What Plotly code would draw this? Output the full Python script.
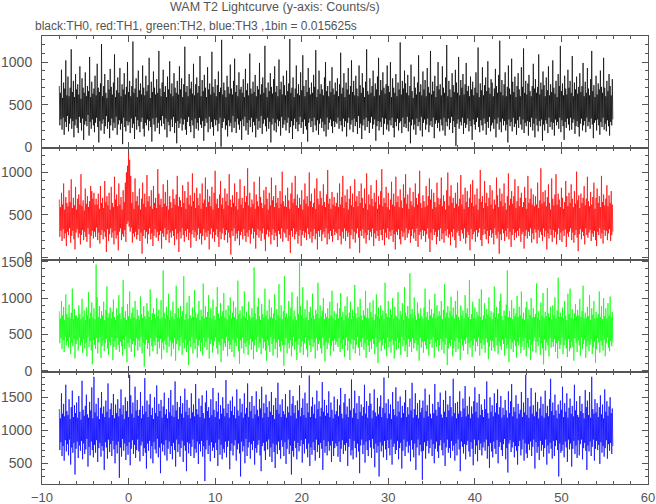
import numpy as np
import plotly.graph_objects as go
from plotly.subplots import make_subplots

# time axis: first plotted sample and spacing (seconds)
T_START = -8.0
T_STEP = 0.0625

# TH0 (black) counts/s
TH0 = [
720,260,640,330,910,210,580,350,760,150,690,300,1020,240,610,370,
830,190,600,280,700,340,1150,220,650,310,780,120,590,260,860,330,
680,230,740,170,620,360,950,290,570,200,810,340,700,90,640,270,
880,310,600,250,720,380,660,140,1060,300,590,220,770,330,630,260,
690,180,840,290,610,350,980,240,700,60,650,310,750,200,1210,280,
600,330,720,160,860,250,640,370,580,220,790,300,680,110,920,260,
710,340,620,200,760,290,1090,230,590,360,670,150,820,270,640,320,
930,210,600,280,740,40,680,350,870,240,620,190,710,310,1000,260,
650,300,780,170,600,340,720,230,1240,280,640,100,690,360,810,210,
590,320,900,250,670,180,750,300,620,350,960,220,700,130,610,290,
840,260,660,330,730,200,1050,310,580,240,770,70,650,340,890,270,
700,190,620,350,800,230,640,290,1130,160,690,320,600,250,760,370,
910,280,650,210,720,340,590,120,830,300,680,260,1010,190,630,330,
750,240,600,360,870,170,700,290,640,50,780,310,620,230,950,280,
680,340,810,200,590,270,740,330,1180,210,650,150,720,300,600,360,
860,250,690,180,770,320,630,260,980,110,610,340,740,220,820,290,
640,200,720,350,1070,270,600,230,790,310,660,80,850,250,700,340,
590,290,940,180,680,360,750,220,620,300,1120,240,710,140,640,330,
800,260,600,320,730,190,890,280,650,350,700,10,1260,230,620,300,
760,340,670,210,590,260,840,130,710,320,630,250,970,290,690,180,
620,370,780,230,1040,300,650,170,730,340,600,270,880,210,680,310,
710,90,640,330,800,250,590,360,920,200,670,290,750,150,610,320,
1100,240,690,350,630,180,770,300,650,260,850,120,600,340,720,210,
680,310,990,230,620,370,740,160,820,280,640,330,1190,250,700,190,
590,350,760,220,660,300,870,60,710,270,630,340,800,200,950,290,
650,180,720,330,600,250,1030,310,680,140,770,360,620,230,840,270,
730,320,610,200,900,290,660,350,750,170,1270,240,640,310,700,100,
820,260,590,340,690,220,960,300,630,190,740,270,610,360,880,230,
670,300,1080,160,720,330,600,250,790,210,650,70,930,290,700,340,
620,240,760,310,640,180,850,350,710,260,1140,200,590,320,680,150,
900,280,630,340,740,230,680,300,610,190,820,270,1000,130,660,350,
720,210,600,290,780,330,650,250,940,170,690,310,620,240,760,300,
660,280,810,350,600,220,740,310,1110,260,630,190,700,340,870,240,
590,310,760,130,680,290,930,350,620,210,720,270,1020,320,650,180,
780,340,610,250,840,300,690,160,600,370,960,230,730,280,640,100,
870,260,700,330,590,200,770,350,1150,240,660,310,620,170,810,290,
640,360,720,220,900,270,600,330,750,80,680,250,830,310,1050,200,
610,300,790,240,670,350,880,150,700,280,630,340,740,210,960,270,
720,190,650,320,1000,260,590,350,810,230,700,120,640,300,860,250,
600,340,760,200,680,290,1230,310,620,170,780,350,690,240,900,280,
750,230,640,360,850,190,610,300,720,50,970,260,660,330,580,210,
830,270,700,150,620,340,760,250,1080,300,650,200,740,360,610,130,
890,290,680,330,790,210,600,270,930,340,710,180,640,260,1130,310,
620,240,770,350,660,110,840,280,590,320,720,230,1000,290,680,190,
740,330,610,260,950,200,700,350,640,140,820,300,1200,250,600,340,
780,210,680,290,590,360,870,170,730,310,650,240,910,20,760,280,
640,330,1060,220,610,300,790,260,700,350,860,160,620,290,740,230,
990,270,660,340,720,190,600,310,830,250,680,90,770,330,610,270,
700,210,880,300,640,350,1170,240,590,180,750,320,670,260,940,200,
610,340,730,280,820,150,660,300,1010,230,700,360,630,190,800,260,
760,290,600,220,690,330,920,120,720,280,640,350,850,210,1250,300,
650,180,790,340,610,260,740,310,880,200,600,270,710,60,960,330,
690,250,620,300,1040,190,770,350,650,240,830,280,590,150,720,320,
870,230,680,360,600,270,940,210,710,330,1160,170,640,290,780,250,
620,310,750,140,850,300,660,240,600,350,720,200,980,280,690,120,
800,340,640,260,710,190,1090,310,620,250,760,330,680,80,890,270,
730,200,600,320,820,280,670,170,950,350,610,240,740,300,650,210,
1020,290,700,140,630,330,780,260,590,300,860,220,720,350,1190,180,
660,320,750,250,610,90,840,300,690,230,620,340,910,270,700,200,
780,350,640,210,1070,290,600,330,760,160,680,250,830,310,630,240,
710,130,870,280,650,340,720,200,990,260,600,310,770,180,640,350,
930,250,690,300,610,220,800,340,1130,270,660,110,730,290,590,320,
840,200,620,330,750,260,680,150,900,300,710,240,640,350,1050,210,
700,280,600,190,780,320,660,250,860,140,720,300,610,260,800,330,
]

# TH1 (red) counts/s
TH1 = [
680,240,590,310,760,190,620,330,870,220,560,280,710,130,640,300,
600,260,790,340,650,170,920,250,580,310,700,210,610,90,830,290,
560,330,690,230,740,280,620,150,980,260,600,320,670,200,550,300,
810,240,630,180,720,340,590,270,660,110,840,250,780,310,690,220,
760,300,620,240,690,350,620,200,750,290,570,160,840,260,640,320,
700,210,580,300,900,240,650,60,720,330,610,190,760,270,560,340,
830,230,640,290,590,150,950,310,680,220,740,260,600,80,870,300,
620,340,710,200,560,270,790,240,650,320,880,180,1000,390,1080,420,
1270,360,1150,300,960,350,640,170,770,280,570,240,930,300,660,210,
720,260,610,330,810,190,560,290,690,40,880,250,630,320,750,220,
590,300,970,160,660,270,720,340,600,210,790,280,570,130,840,250,
640,330,700,230,580,300,1040,190,750,260,620,310,690,100,590,280,
860,240,630,340,770,200,600,270,910,320,560,170,720,290,650,230,
580,310,800,250,690,140,620,330,740,210,960,280,600,60,710,300,
670,220,590,340,850,260,640,180,780,310,570,240,700,330,890,200,
620,290,730,110,600,270,990,320,660,230,760,300,580,190,820,260,
700,340,610,210,750,280,570,150,870,250,640,330,680,200,940,290,
590,240,800,310,650,90,720,270,600,340,830,220,560,300,760,180,
1020,260,630,330,690,240,580,120,740,300,900,210,620,280,700,340,
570,200,810,260,660,320,750,170,610,290,980,230,680,30,590,310,
730,250,640,340,870,190,600,280,770,220,560,310,690,140,920,260,
620,300,700,210,580,330,840,250,650,180,720,290,1050,240,610,320,
760,160,590,270,680,340,630,220,890,300,570,100,740,260,660,330,
600,230,950,310,710,190,640,280,580,340,790,210,620,70,830,270,
690,320,560,240,760,300,610,150,940,260,670,330,720,200,590,290,
850,250,640,120,700,310,580,270,780,220,630,340,1010,180,660,300,
600,280,730,230,590,330,820,190,670,260,570,50,750,310,880,240,
640,340,690,210,960,270,610,300,740,160,580,250,700,320,620,130,
790,260,560,310,680,230,870,290,630,200,720,340,600,270,1000,220,
660,300,750,170,590,250,640,330,810,210,570,280,930,90,690,310,
620,240,780,320,700,190,610,270,860,300,650,230,590,340,740,150,
1030,280,630,210,690,310,570,250,770,180,620,330,710,260,600,300,
640,280,760,200,590,330,870,250,620,150,710,300,960,220,580,340,
730,190,650,310,800,240,560,290,690,100,840,260,610,330,750,210,
590,300,920,170,660,280,720,340,600,230,780,50,640,310,870,250,
700,330,580,220,810,290,630,160,990,260,560,320,740,200,620,300,
850,240,690,340,600,130,760,280,650,220,910,310,570,250,720,190,
620,320,780,260,1040,200,600,330,700,140,640,290,830,230,590,340,
760,210,560,300,680,250,890,320,620,180,750,270,600,90,950,300,
650,260,720,330,590,210,800,150,670,310,580,240,860,290,700,200,
980,340,630,230,740,280,570,320,820,170,660,250,610,330,770,220,
590,290,870,190,700,340,620,120,750,260,1020,300,640,210,580,320,
730,250,660,310,590,180,840,270,610,340,720,220,930,60,680,290,
800,200,570,330,760,260,650,300,590,150,880,240,700,320,620,190,
690,340,940,210,600,280,730,170,660,310,560,250,790,330,1000,230,
610,270,720,140,850,300,640,240,700,330,580,200,760,110,630,290,
880,310,600,250,690,190,970,320,620,280,740,220,570,340,820,160,
650,230,780,300,590,260,700,80,860,330,640,210,910,270,600,300,
740,180,620,320,810,240,560,290,690,340,1030,200,650,130,720,260,
580,330,900,270,640,210,760,310,600,160,700,250,850,320,620,230,
790,280,570,150,680,340,620,260,940,220,730,300,590,40,810,270,
660,200,750,330,600,280,870,190,640,310,560,240,720,340,990,210,
610,300,690,120,780,260,630,330,720,200,920,290,580,230,660,310,
840,250,600,340,700,180,760,270,590,300,650,100,830,250,700,320,
570,220,960,300,640,250,690,340,810,170,620,280,740,210,600,330,
720,290,620,160,880,320,580,230,670,300,1050,260,630,190,770,340,
650,240,790,310,600,90,710,280,860,220,640,330,560,260,930,180,
690,320,610,230,740,300,980,150,620,270,750,340,680,200,590,290,
820,180,700,310,570,250,650,330,900,120,720,280,600,240,760,300,
640,340,860,200,690,290,590,170,780,260,630,320,1010,230,670,70,
730,270,580,330,750,210,640,300,700,250,840,150,610,340,690,260,
950,230,660,290,600,320,770,190,620,280,710,240,880,310,570,200,
700,130,810,300,640,260,720,340,590,220,960,280,650,160,740,320,
610,250,690,310,850,200,600,280,730,330,640,190,780,260,620,300,
]

# TH2 (green) counts/s
TH2 = [
820,380,720,450,960,300,760,420,880,260,700,470,1050,350,780,410,
740,320,910,460,720,230,800,390,1130,340,710,440,850,170,760,370,
760,420,730,280,900,460,780,350,710,400,990,250,740,440,830,310,
700,380,870,200,760,470,1080,330,720,410,800,280,940,90,730,430,
860,360,710,300,1460,450,1010,240,740,390,890,460,720,180,820,340,
760,420,950,270,700,380,840,440,1160,310,730,220,790,400,870,350,
720,460,810,150,980,330,740,410,700,290,860,450,760,360,1040,260,
790,400,710,340,880,210,1250,430,730,300,820,470,700,120,920,380,
750,320,1090,440,720,260,800,370,870,410,740,190,960,350,710,450,
840,280,760,420,700,330,1020,470,780,240,730,390,890,60,750,360,
710,430,930,300,820,380,740,200,1120,450,700,340,790,270,860,410,
780,350,720,460,1000,230,750,400,840,310,710,440,970,160,730,390,
1380,290,800,420,720,360,880,250,760,470,1060,330,700,410,830,200,
740,380,950,300,710,450,790,140,1170,370,730,420,860,280,720,340,
890,460,750,220,820,390,1300,310,700,430,780,260,940,360,710,80,
1030,410,760,330,720,470,870,240,740,380,1110,300,800,440,730,180,
780,350,960,420,700,270,840,390,750,210,1200,460,720,320,890,400,
740,290,810,450,1040,170,730,370,860,430,710,250,980,340,760,410,
700,460,880,310,1150,230,790,400,720,350,930,120,750,440,820,280,
1070,380,730,330,840,470,710,200,900,410,760,300,1010,360,720,260,
800,430,960,190,740,390,870,340,710,450,1240,270,780,100,830,420,
720,310,890,460,750,240,1090,380,730,330,810,410,700,220,950,360,
760,440,720,290,860,400,740,160,1420,350,790,430,710,260,880,470,
1000,320,750,380,700,230,920,450,780,310,730,400,1130,280,760,140,
830,420,710,350,980,260,740,460,870,370,720,210,790,440,1050,300,
700,390,850,180,760,430,1190,330,730,270,900,410,710,350,820,70,
1300,360,740,450,790,240,720,380,960,310,750,420,870,200,1080,340,
710,470,830,290,750,400,700,150,1020,360,780,440,1490,250,890,330,
760,410,1150,220,720,380,850,460,740,300,970,190,700,420,810,350,
880,260,730,440,1060,330,760,390,710,170,840,450,780,280,1210,370,
720,420,900,310,750,240,830,460,1000,350,710,130,790,400,740,300,
860,380,720,450,950,210,760,340,1100,410,730,270,820,430,700,360,
780,400,930,330,720,450,860,260,1070,380,740,300,810,430,700,190,
890,350,760,460,1020,280,730,410,800,150,950,370,710,440,840,300,
750,420,1180,240,790,360,720,470,880,320,740,210,990,400,760,330,
700,450,830,290,760,380,1100,180,730,430,860,350,720,260,940,410,
810,300,740,440,970,370,700,230,780,460,1050,330,750,110,870,390,
720,420,900,270,760,350,830,440,710,300,1210,380,790,200,740,460,
960,330,730,400,850,250,770,430,1000,360,720,170,880,410,760,290,
740,450,1080,310,710,390,820,220,760,470,930,340,700,420,1150,270,
800,360,750,190,890,440,720,330,1340,400,780,260,850,450,730,310,
1010,380,760,430,700,280,940,360,790,140,720,460,860,320,750,400,
720,250,870,410,1130,350,740,300,810,440,700,210,980,370,760,430,
850,320,730,460,790,180,1060,390,720,330,900,420,750,270,820,350,
760,440,960,290,710,400,840,240,1190,360,730,450,800,80,890,310,
730,380,820,340,1020,430,750,200,870,310,720,410,960,260,770,460,
1100,300,740,390,700,150,900,440,760,350,830,280,720,420,1040,370,
790,460,860,230,740,380,1250,320,710,410,780,190,950,350,730,440,
870,270,720,400,810,340,760,460,990,210,740,380,1120,300,700,430,
760,360,930,250,720,450,850,390,770,160,1010,330,740,420,820,280,
710,410,800,320,1160,270,740,460,880,350,720,230,790,400,960,340,
1060,290,750,430,700,370,830,210,760,450,910,310,1380,360,740,120,
820,440,730,300,970,390,710,260,860,420,750,340,790,180,1030,400,
740,350,880,460,760,240,1090,330,720,410,800,290,700,450,870,200,
950,380,710,320,840,430,770,150,1000,360,730,270,860,410,740,460,
780,250,1200,400,730,340,820,460,700,220,940,380,760,310,1070,90,
720,430,810,280,750,390,1140,350,790,200,730,450,880,320,710,400,
900,330,760,440,1010,260,720,380,830,170,1280,410,740,300,800,360,
740,460,870,230,720,350,960,420,760,310,700,190,1060,440,780,270,
1130,310,730,400,850,330,710,140,790,450,920,380,750,260,840,420,
760,350,990,210,740,460,820,300,1170,370,720,430,800,180,730,340,
880,410,750,270,1040,360,700,440,860,230,770,320,960,400,720,110,
810,300,730,450,780,390,1090,250,740,420,890,350,710,280,1000,430,
750,200,860,380,720,460,930,320,760,270,1020,410,730,340,810,390,
]

# TH3 (blue) counts/s
TH3 = [
1320,700,1180,820,1560,610,1250,760,1400,540,1210,850,1690,680,1290,790,
1230,620,1470,860,1170,480,1350,740,1600,660,1200,810,1380,330,1260,720,
1420,830,1190,580,1520,770,1280,690,1160,840,1750,560,1310,800,1220,640,
1370,710,1540,870,1240,450,1190,750,1430,620,1300,830,1650,700,1180,590,
1810,780,1270,660,1400,850,1210,520,1490,730,1170,810,1340,600,1580,760,
1250,690,1360,400,1200,820,1450,740,1280,570,1710,860,1190,670,1320,790,
1410,610,1230,840,1550,710,1180,500,1390,780,1260,650,1470,830,1210,280,
1330,740,1620,600,1240,870,1380,690,1170,800,1500,550,1290,760,1440,630,
1200,820,1840,470,1530,720,1250,850,1420,640,1190,780,1660,580,1300,700,
1460,860,1220,680,1310,530,1580,770,1180,830,1370,610,1240,730,1790,660,
1280,420,1450,800,1200,690,1390,840,1550,570,1230,760,1340,500,1170,820,
1500,710,1260,650,1680,870,1210,590,1400,740,1290,350,1460,800,1190,680,
1360,780,1570,620,1240,850,1320,540,1180,720,1490,830,1270,640,1610,760,
1220,560,1380,810,1200,700,1740,450,1300,860,1430,670,1170,790,1350,600,
1520,730,1250,840,1410,520,1190,770,1630,690,1280,380,1460,820,1230,650,
1340,800,1180,610,1560,750,1270,860,1390,580,1210,720,1700,660,1320,830,
1240,490,1480,790,1200,680,1370,840,1530,600,1260,760,1180,230,1420,710,
1600,850,1290,640,1350,770,1190,530,1470,820,1230,690,1640,740,1310,580,
1200,810,1440,700,1280,460,1570,860,1170,630,1380,780,1250,560,1500,720,
1330,660,1210,830,1760,590,1260,750,1400,840,1190,410,1450,690,1290,800,
1510,620,1230,770,1360,850,1180,540,1620,710,1300,800,1220,650,1480,300,
1270,830,1400,680,1190,760,1560,500,1250,870,1340,610,1710,740,1200,820,
1430,570,1290,790,1520,700,1180,840,1370,480,1240,730,1590,660,1310,780,
1210,850,1470,620,1330,380,1660,760,1190,810,1410,690,1260,550,1540,830,
1350,710,1200,860,1440,600,1280,740,1580,520,1230,800,1380,670,1170,430,
1490,780,1310,640,1720,830,1250,700,1390,570,1200,850,1470,750,1290,610,
1240,820,1550,490,1190,720,1360,860,1270,640,1610,770,1220,330,1400,690,
1520,600,1260,840,1380,730,1180,560,1450,810,1300,680,1680,760,1210,850,
1340,510,1480,790,1230,650,1570,870,1190,720,1410,590,1270,800,1830,460,
1200,740,1360,630,1500,820,1250,700,1390,540,1180,860,1600,670,1320,780,
1440,580,1210,810,1340,720,1730,400,1280,850,1460,660,1220,760,1380,620,
1260,830,1590,690,1200,770,1420,520,1310,840,1180,610,1510,730,1240,800,
1290,760,1470,600,1210,830,1380,520,1640,720,1250,850,1180,640,1420,780,
1550,690,1240,810,1360,460,1200,750,1480,870,1300,620,1770,700,1190,560,
1330,840,1600,730,1260,590,1410,800,1170,680,1520,350,1280,770,1390,860,
1220,640,1350,780,1690,510,1250,830,1440,700,1190,610,1370,850,1560,740,
1400,580,1180,870,1300,720,1620,440,1270,800,1210,660,1490,760,1240,300,
1360,820,1530,680,1200,770,1340,590,1800,840,1260,710,1410,550,1180,850,
1470,730,1250,620,1390,860,1170,480,1580,750,1320,800,1230,640,1650,700,
1210,840,1440,560,1280,730,1510,810,1190,420,1370,690,1260,860,1420,610,
1610,750,1200,830,1350,660,1240,770,1480,530,1300,850,1720,710,1190,590,
1320,800,1560,400,1230,740,1410,860,1180,620,1460,780,1270,680,1340,250,
1450,690,1190,820,1630,570,1290,760,1380,840,1210,650,1540,730,1250,860,
1180,610,1400,790,1260,500,1700,720,1310,830,1220,680,1430,580,1350,770,
1570,850,1240,700,1190,620,1460,810,1280,460,1600,740,1200,860,1390,660,
1300,730,1520,580,1350,840,1210,690,1780,770,1260,540,1410,800,1180,620,
1430,860,1250,710,1590,380,1290,830,1200,750,1480,650,1330,790,1670,560,
1210,780,1370,840,1240,680,1510,600,1180,820,1360,720,1250,470,1440,860,
1650,640,1280,770,1420,530,1190,850,1550,700,1230,800,1390,620,1310,740,
1200,820,1470,690,1320,860,1740,570,1260,760,1180,430,1500,810,1280,680,
1380,590,1210,830,1560,720,1270,640,1410,850,1620,500,1240,750,1350,820,
1520,700,1190,610,1340,790,1230,870,1460,560,1300,730,1190,360,1590,800,
1260,850,1440,670,1700,740,1210,820,1350,590,1280,760,1530,690,1180,480,
1400,760,1250,840,1310,620,1580,710,1200,860,1420,540,1270,800,1840,650,
1230,580,1490,790,1190,700,1360,830,1640,610,1250,750,1380,860,1210,420,
1570,820,1280,660,1430,750,1180,550,1330,840,1510,690,1220,780,1400,600,
1190,730,1600,860,1260,480,1370,770,1210,650,1470,810,1780,720,1290,570,
1420,840,1230,610,1540,760,1300,850,1180,700,1390,300,1250,800,1450,660,
1310,690,1660,780,1200,590,1410,830,1280,740,1560,520,1190,860,1340,710,
1480,800,1250,450,1370,720,1210,840,1690,640,1300,770,1440,580,1230,850,
1200,620,1520,790,1290,860,1400,560,1260,730,1180,810,1610,690,1350,400,
1450,770,1230,680,1580,830,1190,610,1810,750,1320,860,1250,540,1470,720,
1270,840,1410,700,1200,780,1350,490,1530,820,1240,660,1390,760,1180,600,
1620,730,1280,850,1440,570,1220,790,1360,690,1500,810,1260,640,1330,760,
]

SERIES_NAMES = ["TH0", "TH1", "TH2", "TH3"]
SERIES_VALUES = [TH0, TH1, TH2, TH3]
SERIES_COLORS = ["#000000", "#ff0000", "#00ff00", "#0000ff"]

Y_RANGES = [[-5, 1305], [-35, 1290], [-15, 1523], [186, 1883]]
Y_TICKS = [[0, 500, 1000], [0, 500, 1000], [0, 500, 1000, 1500], [500, 1000, 1500]]
X_RANGE = [-10, 60]
X_TICKS = [-10, 0, 10, 20, 30, 40, 50, 60]

TITLE = "WAM T2 Lightcurve (y-axis: Counts/s)"
SUBTITLE = "black:TH0, red:TH1, green:TH2, blue:TH3 ,1bin = 0.015625s"

AXC = "#555555"
FONT = "Liberation Sans"

fig = make_subplots(rows=4, cols=1, shared_xaxes=True, vertical_spacing=0)

for i, (name, vals, color) in enumerate(zip(SERIES_NAMES, SERIES_VALUES, SERIES_COLORS)):
    t = T_START + T_STEP * np.arange(len(vals))
    fig.add_trace(
        go.Scatter(x=t, y=vals, mode="lines", name=name,
                   line=dict(color=color, width=0.7), hoverinfo="skip"),
        row=i + 1, col=1,
    )
    fig.update_yaxes(
        range=Y_RANGES[i], tickvals=Y_TICKS[i], ticks="inside", ticklen=6,
        tickcolor=AXC, showline=True, linecolor=AXC, linewidth=1, mirror="ticks",
        showgrid=False, zeroline=False, ticklabelstandoff=6, automargin=False,
        tickfont=dict(family=FONT, size=14, color=AXC),
        minor=dict(dtick=100, tick0=0, ticks="inside", ticklen=3, tickcolor=AXC, showgrid=False),
        row=i + 1, col=1,
    )
    fig.update_xaxes(
        range=X_RANGE, tickvals=X_TICKS, ticks="inside", ticklen=6,
        tickcolor=AXC, showline=True, linecolor=AXC, linewidth=1, mirror="ticks",
        showgrid=False, zeroline=False, showticklabels=(i == 3), ticklabelstandoff=1,
        automargin=False,
        tickfont=dict(family=FONT, size=13, color=AXC),
        minor=dict(dtick=2, tick0=0, ticks="inside", ticklen=3, tickcolor=AXC, showgrid=False),
        row=i + 1, col=1,
    )

fig.add_annotation(text=TITLE, xref="paper", yref="paper", x=0.208, y=1.0647,
                   xanchor="left", yanchor="middle", showarrow=False,
                   font=dict(family=FONT, size=12.5, color=AXC))
fig.add_annotation(text=SUBTITLE, xref="paper", yref="paper", x=-0.0149, y=1.0223,
                   xanchor="left", yanchor="middle", showarrow=False,
                   font=dict(family=FONT, size=12, color=AXC))

fig.update_layout(
    width=656, height=504,
    margin=dict(l=42, r=8, t=36, b=20, autoexpand=False),
    paper_bgcolor="white", plot_bgcolor="white",
    showlegend=False,
)

# remove the default 8 px page margin so the figure fills the window exactly
fig.write_html("out.html",
               config={"displayModeBar": False, "staticPlot": True},
               post_script="document.body.style.margin='0';document.body.style.overflow='hidden';")
